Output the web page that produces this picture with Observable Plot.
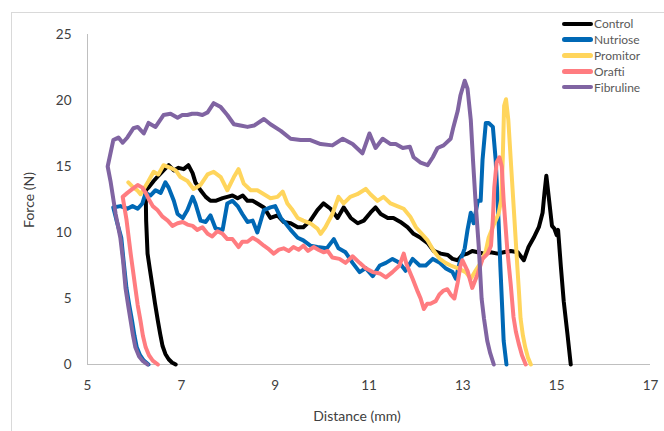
<!DOCTYPE html>
<html>
<head>
<meta charset="utf-8">
<script src="https://cdn.jsdelivr.net/npm/d3@7"></script>
<script src="https://cdn.jsdelivr.net/npm/@observablehq/plot@0.6"></script>
<style>
  html, body { margin: 0; padding: 0; background: #fff; }
  body { width: 664px; height: 431px; overflow: hidden; position: relative; font-family: Lato, "Open Sans", sans-serif; color: #404040; }
  #frame { position: absolute; left: 11px; top: 12px; width: 700px; height: 500px; border: 1px solid #d9d9d9; box-sizing: border-box; }
  #chart { position: absolute; left: 0; top: 0; }
  #xtitle { position: absolute; left: 357px; top: 415px; transform: translate(-50%, -50%); font-size: 14px; white-space: nowrap; }
  #ytitle { position: absolute; left: 28px; top: 200px; transform: translate(-50%, -50%) rotate(-90deg); font-size: 14px; white-space: nowrap; }
  #legend { position: absolute; left: 562px; top: 16px; font-size: 12px; color: #595959; }
  .item { display: flex; align-items: center; height: 15.8px; }
  .swatch { width: 31px; height: 4.5px; border-radius: 2.5px; margin-right: 1px; }
</style>
</head>
<body>
<div id="frame"></div>
<div id="chart"></div>
<div id="xtitle">Distance (mm)</div>
<div id="ytitle">Force (N)</div>
<div id="legend"></div>
<script>
const seriesNames = ["Control", "Nutriose", "Promitor", "Orafti", "Fibruline"];
const seriesColors = ["#000000", "#0068b5", "#ffd55c", "#ff7c80", "#8064a2"];
const xTicks = [5, 7, 9, 11, 13, 15, 17];
const yTicks = [0, 5, 10, 15, 20, 25];

const control = [[6.88,0],[6.8,0.15],[6.73,0.4],[6.66,0.8],[6.6,1.4],[6.55,2.3],[6.5,3.3],[6.44,4.6],[6.39,5.8],[6.33,7.2],[6.28,8.4],[6.25,10.9],[6.24,13.2],
[6.3,13.4],[6.41,13.9],[6.51,14.3],[6.62,14.7],[6.73,15.1],[6.84,14.7],[6.94,14.9],[7.05,14.8],[7.15,15.1],[7.24,14.5],[7.3,13.8],[7.41,13.2],[7.52,12.7],[7.62,12.4],[7.73,12.4],[7.88,12.6],[7.98,12.7],[8.09,12.8],[8.2,12.6],[8.31,12.8],[8.41,12.4],[8.52,12.4],[8.62,12.2],[8.76,11.9],[8.9,11.1],[9.05,11.3],[9.18,10.8],[9.33,10.7],[9.48,10.4],[9.6,10.4],[9.75,10.9],[9.9,11.7],[10.03,12.2],[10.18,11.8],[10.33,11.1],[10.46,11.9],[10.61,11.1],[10.76,10.7],[10.89,10.9],[11.03,11.5],[11.14,11.9],[11.25,11.4],[11.4,11.1],[11.52,11.1],[11.67,10.8],[11.82,10.4],[11.95,9.9],[12.1,9.6],[12.25,9.2],[12.38,8.6],[12.53,8.4],[12.68,8.3],[12.78,8.0],[12.89,7.9],[12.99,8.3],[13.1,8.4],[13.2,8.6],[13.32,8.5],[13.45,8.4],[13.59,8.5],[13.74,8.4],[13.87,8.5],[14.02,8.6],[14.17,8.5],[14.3,7.9],[14.4,8.9],[14.51,9.6],[14.62,10.4],[14.7,11.5],[14.74,13.0],[14.78,14.3],[14.84,12.4],[14.9,10.5],[14.95,10.3],[15.0,9.8],[15.03,10.2],[15.09,7.4],[15.15,4.8],[15.23,2.3],[15.3,0]];

const nutriose = [[6.3,0],[6.2,0.3],[6.12,0.7],[6.05,1.3],[6.0,2.2],[5.95,3.3],[5.89,4.5],[5.83,5.8],[5.77,7.8],[5.72,9.6],[5.62,10.9],[5.55,11.9],[5.7,12.0],[5.85,11.8],[5.96,12.0],[6.07,11.8],[6.17,12.2],[6.24,13.0],[6.34,12.8],[6.45,13.2],[6.56,13.0],[6.66,13.8],[6.73,13.4],[6.84,12.4],[6.92,11.4],[7.03,11.1],[7.13,11.7],[7.24,12.7],[7.3,12.2],[7.41,10.9],[7.52,10.8],[7.62,11.3],[7.73,10.3],[7.88,10.2],[7.98,12.2],[8.09,12.4],[8.2,12.0],[8.3,11.4],[8.41,10.8],[8.52,10.9],[8.62,10.0],[8.76,11.7],[8.9,11.9],[9.0,12.0],[9.12,11.1],[9.22,10.7],[9.33,10.2],[9.48,9.6],[9.6,9.4],[9.75,9.0],[9.9,8.9],[10.1,8.8],[10.25,9.5],[10.35,8.8],[10.5,8.5],[10.65,7.7],[10.8,7.0],[10.93,7.3],[11.08,6.7],[11.23,7.5],[11.36,7.7],[11.5,8.0],[11.65,7.7],[11.78,7.1],[11.93,8.0],[12.08,7.5],[12.21,7.5],[12.36,8.0],[12.51,7.7],[12.63,7.3],[12.78,7.0],[12.85,6.5],[12.93,7.7],[13.04,8.8],[13.1,10.2],[13.17,11.5],[13.23,10.7],[13.32,12.4],[13.38,12.4],[13.42,15.5],[13.49,18.3],[13.55,18.3],[13.64,18.0],[13.7,15.5],[13.76,11.0],[13.8,7.4],[13.84,4.2],[13.87,1.8],[13.93,0]];

const promitor = [[5.87,13.8],[5.98,13.4],[6.06,13.2],[6.13,12.9],[6.2,13.3],[6.3,13.9],[6.41,14.6],[6.51,14.4],[6.62,15.1],[6.77,14.9],[6.88,14.7],[6.98,14.2],[7.13,13.9],[7.26,13.3],[7.41,13.6],[7.56,14.4],[7.69,14.6],[7.84,14.2],[7.98,13.2],[8.12,14.2],[8.22,14.8],[8.33,13.7],[8.48,13.2],[8.62,13.2],[8.76,12.9],[8.9,12.6],[9.05,12.7],[9.16,13.1],[9.26,12.2],[9.37,11.7],[9.48,11.1],[9.6,10.9],[9.75,10.7],[9.9,10.3],[9.97,9.9],[10.07,10.4],[10.22,11.4],[10.35,12.7],[10.46,12.2],[10.6,12.7],[10.75,12.9],[10.93,13.3],[11.03,12.9],[11.18,12.4],[11.31,12.7],[11.46,12.2],[11.6,12.0],[11.74,11.8],[11.88,11.2],[12.0,10.4],[12.1,10.0],[12.25,9.4],[12.38,8.6],[12.51,8.0],[12.63,7.7],[12.74,7.5],[12.89,7.3],[13.06,7.0],[13.17,6.5],[13.27,7.1],[13.38,7.7],[13.49,8.6],[13.55,9.6],[13.66,10.6],[13.76,11.4],[13.82,12.5],[13.85,15.5],[13.88,19.6],[13.92,20.1],[13.97,18.5],[14.03,15.0],[14.1,11.0],[14.16,7.5],[14.2,5.3],[14.23,3.5],[14.28,2.2],[14.33,1.3],[14.39,0.5],[14.45,0]];

const orafti = [[6.5,0],[6.39,0.3],[6.31,0.7],[6.24,1.3],[6.18,2.2],[6.13,3.3],[6.07,4.5],[6.02,5.8],[5.97,7.1],[5.92,8.4],[5.83,11.0],[5.75,12.7],[5.85,13.0],[5.96,13.3],[6.07,13.6],[6.17,13.4],[6.24,13.0],[6.31,12.5],[6.39,12.0],[6.49,11.7],[6.6,11.2],[6.71,10.9],[6.81,10.5],[6.92,10.7],[7.03,10.8],[7.13,10.6],[7.24,10.5],[7.34,10.2],[7.45,10.4],[7.56,9.9],[7.66,9.7],[7.77,10.1],[7.88,9.9],[7.98,9.5],[8.09,9.5],[8.22,8.9],[8.3,9.3],[8.41,9.3],[8.52,9.6],[8.62,9.4],[8.76,9.0],[8.84,8.8],[8.97,8.4],[9.08,8.7],[9.18,8.8],[9.29,8.6],[9.39,8.9],[9.5,8.7],[9.6,9.0],[9.7,8.6],[9.82,8.9],[9.92,8.7],[10.03,8.5],[10.12,8.6],[10.22,8.1],[10.37,8.0],[10.5,7.7],[10.65,8.2],[10.8,7.7],[10.93,7.3],[11.08,7.0],[11.23,6.9],[11.36,6.6],[11.5,7.0],[11.65,7.5],[11.74,8.4],[11.8,7.6],[11.93,6.5],[12.04,5.5],[12.1,5.0],[12.17,4.2],[12.24,4.6],[12.31,4.6],[12.42,4.8],[12.5,5.3],[12.59,5.6],[12.67,5.7],[12.74,5.3],[12.82,5.0],[12.89,6.2],[12.95,7.5],[12.99,7.9],[13.1,7.1],[13.2,5.8],[13.32,6.9],[13.42,8.0],[13.53,8.4],[13.6,9.0],[13.64,11.0],[13.67,13.4],[13.72,15.3],[13.78,15.7],[13.83,15.0],[13.87,12.4],[13.95,8.6],[14.02,6.1],[14.08,3.6],[14.13,2.5],[14.19,1.6],[14.26,0.7],[14.34,0]];

const fibruline = [[6.28,0],[6.17,0.3],[6.1,0.6],[6.02,1.3],[5.97,2.2],[5.92,3.3],[5.87,4.4],[5.81,5.8],[5.76,7.8],[5.7,9.6],[5.6,11.4],[5.49,13.9],[5.43,15.0],[5.55,17.0],[5.66,17.2],[5.75,16.8],[5.85,17.2],[5.98,17.9],[6.07,18.0],[6.2,17.5],[6.3,18.3],[6.45,18.0],[6.62,18.9],[6.77,19.0],[6.92,18.7],[7.02,18.9],[7.13,18.9],[7.23,19.0],[7.34,19.0],[7.45,18.9],[7.56,19.1],[7.69,19.8],[7.84,19.5],[7.98,18.9],[8.12,18.2],[8.26,18.1],[8.41,18.0],[8.55,18.1],[8.76,18.6],[8.9,18.2],[9.12,17.7],[9.33,17.1],[9.54,17.0],[9.75,17.0],[9.97,16.7],[10.22,16.6],[10.44,17.1],[10.65,16.7],[10.86,16.0],[11.01,17.5],[11.14,16.4],[11.29,17.1],[11.46,16.7],[11.57,16.7],[11.72,16.4],[11.87,16.5],[11.95,15.7],[12.1,15.3],[12.25,15.1],[12.36,15.7],[12.46,16.4],[12.59,16.6],[12.74,17.1],[12.8,18.0],[12.89,19.2],[12.95,20.4],[13.04,21.5],[13.1,20.9],[13.17,18.5],[13.22,15.3],[13.27,12.4],[13.34,8.9],[13.4,5.0],[13.45,3.5],[13.52,1.8],[13.58,0.9],[13.66,0]];

const seriesData = [control, nutriose, promitor, orafti, fibruline];

const rows = seriesData.flatMap((pts, i) =>
  pts.map(([x, y], j) => ({series: seriesNames[i], x, y, j}))
);

const chart = Plot.plot({
  width: 664,
  height: 431,
  marginLeft: 87,
  marginRight: 14,
  marginTop: 34,
  marginBottom: 67,
  style: {fontFamily: "Lato, 'Open Sans', sans-serif", fontSize: "13.5px", color: "#404040", background: "transparent", overflow: "visible"},
  x: {domain: [5, 17], ticks: xTicks, tickSize: 0, tickPadding: 16, label: null},
  y: {domain: [0, 25], ticks: yTicks, tickSize: 0, tickPadding: 16, label: null},
  color: {domain: seriesNames, range: seriesColors},
  marks: [
    Plot.ruleX([5], {stroke: "#bfbfbf", strokeWidth: 1}),
    Plot.ruleY([0], {stroke: "#bfbfbf", strokeWidth: 1}),
    ...seriesNames.map((name) =>
      Plot.line(rows.filter(d => d.series === name), {
        x: "x", y: "y", stroke: "series",
        strokeWidth: 4, strokeLinejoin: "round", strokeLinecap: "round"
      })
    )
  ]
});
document.getElementById("chart").appendChild(chart);

const legend = document.getElementById("legend");
seriesNames.forEach((name, i) => {
  const item = document.createElement("div");
  item.className = "item";
  const sw = document.createElement("div");
  sw.className = "swatch";
  sw.style.background = seriesColors[i];
  const label = document.createElement("span");
  label.textContent = name;
  item.appendChild(sw);
  item.appendChild(label);
  legend.appendChild(item);
});
</script>
</body>
</html>
